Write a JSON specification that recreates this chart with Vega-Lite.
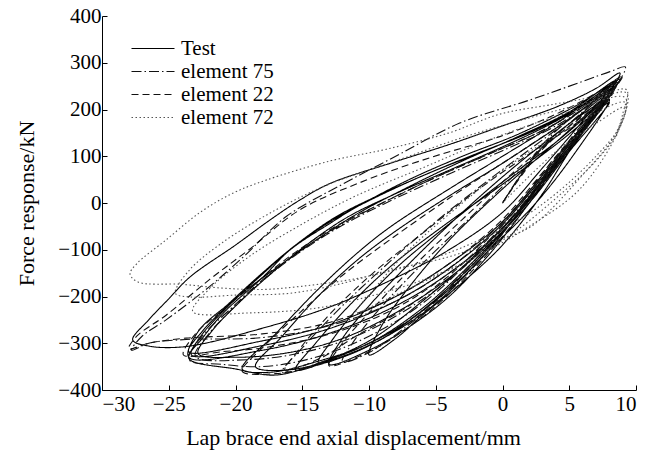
{
  "$schema": "https://vega.github.io/schema/vega-lite/v6.json",
  "width": 534,
  "height": 374,
  "autosize": {"type": "none"},
  "padding": {"left": 102, "top": 16, "right": 26, "bottom": 73},
  "background": "white",
  "config": {
    "view": {"stroke": null},
    "font": "Liberation Serif",
    "axis": {
      "labelFont": "Liberation Serif",
      "titleFont": "Liberation Serif",
      "labelFontSize": 21,
      "titleFontSize": 22,
      "titleFontWeight": "normal",
      "labelColor": "#000",
      "titleColor": "#000",
      "domainColor": "#000",
      "tickColor": "#000",
      "domainWidth": 1,
      "tickWidth": 1,
      "tickSize": -5,
      "grid": false
    },
    "legend": {
      "labelFont": "Liberation Serif",
      "labelFontSize": 21,
      "labelColor": "#000"
    }
  },
  "data": {
    "values": [
      {"s":"Test","i":0,"x":0,"y":0},{"s":"Test","i":1,"x":3,"y":120},{"s":"Test","i":2,"x":6,"y":190},{"s":"Test","i":3,"x":7.5,"y":215},
      {"s":"Test","i":4,"x":5,"y":110},{"s":"Test","i":5,"x":3,"y":20},{"s":"Test","i":6,"x":0,"y":-90},{"s":"Test","i":7,"x":-3,"y":-170},{"s":"Test","i":8,"x":-6,"y":-240},{"s":"Test","i":9,"x":-8,"y":-290},{"s":"Test","i":10,"x":-10,"y":-325},
      {"s":"Test","i":11,"x":-9,"y":-260},{"s":"Test","i":12,"x":-7,"y":-180},{"s":"Test","i":13,"x":-4,"y":-80},{"s":"Test","i":14,"x":0,"y":30},{"s":"Test","i":15,"x":4,"y":130},{"s":"Test","i":16,"x":7.8,"y":225},
      {"s":"Test","i":17,"x":5,"y":120},{"s":"Test","i":18,"x":2,"y":0},{"s":"Test","i":19,"x":-1,"y":-110},{"s":"Test","i":20,"x":-4,"y":-200},{"s":"Test","i":21,"x":-7,"y":-265},{"s":"Test","i":22,"x":-10,"y":-315},{"s":"Test","i":23,"x":-13,"y":-345},
      {"s":"Test","i":24,"x":-12,"y":-290},{"s":"Test","i":25,"x":-10,"y":-220},{"s":"Test","i":26,"x":-7,"y":-130},{"s":"Test","i":27,"x":-3,"y":-20},{"s":"Test","i":28,"x":1,"y":80},{"s":"Test","i":29,"x":5,"y":170},{"s":"Test","i":30,"x":8,"y":235},
      {"s":"Test","i":31,"x":5,"y":125},{"s":"Test","i":32,"x":2,"y":10},{"s":"Test","i":33,"x":-1,"y":-100},{"s":"Test","i":34,"x":-4,"y":-185},{"s":"Test","i":35,"x":-8,"y":-270},{"s":"Test","i":36,"x":-12,"y":-325},{"s":"Test","i":37,"x":-15.5,"y":-357},
      {"s":"Test","i":38,"x":-14,"y":-300},{"s":"Test","i":39,"x":-11.5,"y":-220},{"s":"Test","i":40,"x":-8.4,"y":-136},{"s":"Test","i":41,"x":-4,"y":-40},{"s":"Test","i":42,"x":0,"y":40},{"s":"Test","i":43,"x":4,"y":125},{"s":"Test","i":44,"x":8,"y":215},
      {"s":"Test","i":45,"x":5,"y":110},{"s":"Test","i":46,"x":2,"y":0},{"s":"Test","i":47,"x":-2,"y":-120},{"s":"Test","i":48,"x":-6,"y":-225},{"s":"Test","i":49,"x":-10,"y":-300},{"s":"Test","i":50,"x":-14,"y":-340},{"s":"Test","i":51,"x":-17.4,"y":-362},{"s":"Test","i":52,"x":-19.5,"y":-355},
      {"s":"Test","i":53,"x":-17,"y":-280},{"s":"Test","i":54,"x":-14,"y":-190},{"s":"Test","i":55,"x":-11,"y":-110},{"s":"Test","i":56,"x":-8.4,"y":-51},{"s":"Test","i":57,"x":-4,"y":30},{"s":"Test","i":58,"x":0,"y":100},{"s":"Test","i":59,"x":4,"y":170},{"s":"Test","i":60,"x":8.3,"y":250},
      {"s":"Test","i":61,"x":5,"y":120},{"s":"Test","i":62,"x":2,"y":10},{"s":"Test","i":63,"x":-2,"y":-110},{"s":"Test","i":64,"x":-6,"y":-210},{"s":"Test","i":65,"x":-10,"y":-295},{"s":"Test","i":66,"x":-14,"y":-345},{"s":"Test","i":67,"x":-17,"y":-368},{"s":"Test","i":68,"x":-20,"y":-355},{"s":"Test","i":69,"x":-23.5,"y":-332},
      {"s":"Test","i":70,"x":-22.5,"y":-290},{"s":"Test","i":71,"x":-20.9,"y":-235},{"s":"Test","i":72,"x":-18,"y":-160},{"s":"Test","i":73,"x":-15.9,"y":-100},{"s":"Test","i":74,"x":-13,"y":-45},{"s":"Test","i":75,"x":-10.9,"y":-8},{"s":"Test","i":76,"x":-7,"y":50},{"s":"Test","i":77,"x":-3,"y":100},{"s":"Test","i":78,"x":1,"y":145},{"s":"Test","i":79,"x":5,"y":200},{"s":"Test","i":80,"x":8.5,"y":255},
      {"s":"Test","i":81,"x":6,"y":155},{"s":"Test","i":82,"x":3,"y":50},{"s":"Test","i":83,"x":0,"y":-55},{"s":"Test","i":84,"x":-4,"y":-150},{"s":"Test","i":85,"x":-8,"y":-220},{"s":"Test","i":86,"x":-12.9,"y":-278},{"s":"Test","i":87,"x":-18,"y":-315},{"s":"Test","i":88,"x":-23.5,"y":-330},
      {"s":"Test","i":89,"x":-22.8,"y":-275},{"s":"Test","i":90,"x":-20.5,"y":-215},{"s":"Test","i":91,"x":-18,"y":-150},{"s":"Test","i":92,"x":-15.5,"y":-90},{"s":"Test","i":93,"x":-12.5,"y":-30},{"s":"Test","i":94,"x":-9,"y":20},{"s":"Test","i":95,"x":-5,"y":70},{"s":"Test","i":96,"x":-1,"y":115},{"s":"Test","i":97,"x":3,"y":165},{"s":"Test","i":98,"x":6,"y":210},{"s":"Test","i":99,"x":8.8,"y":265},
      {"s":"Test","i":100,"x":6,"y":165},{"s":"Test","i":101,"x":3,"y":60},{"s":"Test","i":102,"x":0,"y":-40},{"s":"Test","i":103,"x":-4,"y":-130},{"s":"Test","i":104,"x":-8,"y":-200},{"s":"Test","i":105,"x":-12.9,"y":-260},{"s":"Test","i":106,"x":-18,"y":-295},{"s":"Test","i":107,"x":-23.5,"y":-318},
      {"s":"Test","i":108,"x":-22.5,"y":-275},{"s":"Test","i":109,"x":-20,"y":-205},{"s":"Test","i":110,"x":-17,"y":-140},{"s":"Test","i":111,"x":-14,"y":-80},{"s":"Test","i":112,"x":-11,"y":-25},{"s":"Test","i":113,"x":-7,"y":35},{"s":"Test","i":114,"x":-3,"y":90},{"s":"Test","i":115,"x":1,"y":140},{"s":"Test","i":116,"x":5,"y":195},{"s":"Test","i":117,"x":8.5,"y":262},
      {"s":"Test","i":118,"x":6,"y":175},{"s":"Test","i":119,"x":3,"y":75},{"s":"Test","i":120,"x":0,"y":-20},{"s":"Test","i":121,"x":-4,"y":-100},{"s":"Test","i":122,"x":-8,"y":-160},{"s":"Test","i":123,"x":-12.9,"y":-222},{"s":"Test","i":124,"x":-18,"y":-268},{"s":"Test","i":125,"x":-23.7,"y":-307},{"s":"Test","i":126,"x":-26.5,"y":-306},{"s":"Test","i":127,"x":-27.7,"y":-293},
      {"s":"Test","i":128,"x":-26.5,"y":-250},{"s":"Test","i":129,"x":-25,"y":-205},{"s":"Test","i":130,"x":-23.4,"y":-158},{"s":"Test","i":131,"x":-20,"y":-90},{"s":"Test","i":132,"x":-17.4,"y":-36},{"s":"Test","i":133,"x":-15.2,"y":6},{"s":"Test","i":134,"x":-12.9,"y":42},{"s":"Test","i":135,"x":-8.4,"y":85},{"s":"Test","i":136,"x":-4,"y":125},{"s":"Test","i":137,"x":-0.2,"y":163},{"s":"Test","i":138,"x":4,"y":205},{"s":"Test","i":139,"x":7,"y":245},{"s":"Test","i":140,"x":8.8,"y":278},
      {"s":"Test","i":141,"x":7.5,"y":215},{"s":"Test","i":142,"x":6,"y":160},
      {"s":"Test","i":143,"x":3,"y":55},{"s":"Test","i":144,"x":0,"y":-45},{"s":"Test","i":145,"x":-4,"y":-140},{"s":"Test","i":146,"x":-8,"y":-210},{"s":"Test","i":147,"x":-12.9,"y":-268},{"s":"Test","i":148,"x":-18,"y":-305},{"s":"Test","i":149,"x":-23.3,"y":-325},
      {"s":"Test","i":150,"x":-22.6,"y":-285},{"s":"Test","i":151,"x":-20.7,"y":-225},{"s":"Test","i":152,"x":-18.2,"y":-158},{"s":"Test","i":153,"x":-15.7,"y":-95},{"s":"Test","i":154,"x":-12.8,"y":-38},{"s":"Test","i":155,"x":-10,"y":5},{"s":"Test","i":156,"x":-6,"y":58},{"s":"Test","i":157,"x":-2,"y":105},{"s":"Test","i":158,"x":2,"y":150},{"s":"Test","i":159,"x":5.5,"y":200},{"s":"Test","i":160,"x":8.6,"y":258},
      {"s":"Test","i":161,"x":5,"y":115},{"s":"Test","i":162,"x":2,"y":5},{"s":"Test","i":163,"x":-2,"y":-125},{"s":"Test","i":164,"x":-6,"y":-230},{"s":"Test","i":165,"x":-9,"y":-290},{"s":"Test","i":166,"x":-12,"y":-330},{"s":"Test","i":167,"x":-13.8,"y":-342},
      {"s":"Test","i":168,"x":-12.8,"y":-295},{"s":"Test","i":169,"x":-11,"y":-230},{"s":"Test","i":170,"x":-8,"y":-140},{"s":"Test","i":171,"x":-4,"y":-45},{"s":"Test","i":172,"x":0,"y":45},{"s":"Test","i":173,"x":4,"y":130},{"s":"Test","i":174,"x":8,"y":222},
      {"s":"Test","i":175,"x":5.5,"y":110},{"s":"Test","i":176,"x":2.5,"y":0},{"s":"Test","i":177,"x":-1.5,"y":-115},{"s":"Test","i":178,"x":-5,"y":-215},{"s":"Test","i":179,"x":-9,"y":-290},{"s":"Test","i":180,"x":-13,"y":-338},{"s":"Test","i":181,"x":-16.5,"y":-358},{"s":"Test","i":182,"x":-18.5,"y":-350},
      {"s":"Test","i":183,"x":-16.5,"y":-285},{"s":"Test","i":184,"x":-14,"y":-205},{"s":"Test","i":185,"x":-11,"y":-125},{"s":"Test","i":186,"x":-8,"y":-60},{"s":"Test","i":187,"x":-4,"y":15},{"s":"Test","i":188,"x":0,"y":85},{"s":"Test","i":189,"x":4,"y":160},{"s":"Test","i":190,"x":8.2,"y":240},
      {"s":"Test","i":191,"x":6,"y":150},{"s":"Test","i":192,"x":3,"y":45},{"s":"Test","i":193,"x":0,"y":-60},{"s":"Test","i":194,"x":-4,"y":-160},{"s":"Test","i":195,"x":-8,"y":-235},{"s":"Test","i":196,"x":-12,"y":-290},{"s":"Test","i":197,"x":-16,"y":-320},{"s":"Test","i":198,"x":-20,"y":-330},{"s":"Test","i":199,"x":-22.8,"y":-322},
      {"s":"Test","i":200,"x":-21.8,"y":-275},{"s":"Test","i":201,"x":-19.8,"y":-215},{"s":"Test","i":202,"x":-17.3,"y":-150},{"s":"Test","i":203,"x":-14.6,"y":-88},{"s":"Test","i":204,"x":-11.6,"y":-30},{"s":"Test","i":205,"x":-8,"y":20},{"s":"Test","i":206,"x":-4,"y":70},{"s":"Test","i":207,"x":0,"y":120},{"s":"Test","i":208,"x":4,"y":175},{"s":"Test","i":209,"x":8.4,"y":250},

      {"s":"element 75","i":0,"x":0,"y":0},{"s":"element 75","i":1,"x":3,"y":125},{"s":"element 75","i":2,"x":6,"y":200},{"s":"element 75","i":3,"x":8,"y":235},
      {"s":"element 75","i":4,"x":5,"y":120},{"s":"element 75","i":5,"x":2,"y":10},{"s":"element 75","i":6,"x":-1,"y":-100},{"s":"element 75","i":7,"x":-4,"y":-190},{"s":"element 75","i":8,"x":-7,"y":-260},{"s":"element 75","i":9,"x":-10,"y":-320},{"s":"element 75","i":10,"x":-12,"y":-340},
      {"s":"element 75","i":11,"x":-11,"y":-290},{"s":"element 75","i":12,"x":-9,"y":-220},{"s":"element 75","i":13,"x":-6,"y":-130},{"s":"element 75","i":14,"x":-2,"y":-20},{"s":"element 75","i":15,"x":2,"y":90},{"s":"element 75","i":16,"x":5,"y":170},{"s":"element 75","i":17,"x":8.2,"y":245},
      {"s":"element 75","i":18,"x":5,"y":125},{"s":"element 75","i":19,"x":2,"y":15},{"s":"element 75","i":20,"x":-2,"y":-120},{"s":"element 75","i":21,"x":-6,"y":-230},{"s":"element 75","i":22,"x":-10,"y":-300},{"s":"element 75","i":23,"x":-14,"y":-345},{"s":"element 75","i":24,"x":-16.5,"y":-362},
      {"s":"element 75","i":25,"x":-15,"y":-310},{"s":"element 75","i":26,"x":-12,"y":-220},{"s":"element 75","i":27,"x":-9,"y":-140},{"s":"element 75","i":28,"x":-5,"y":-40},{"s":"element 75","i":29,"x":-1,"y":50},{"s":"element 75","i":30,"x":3,"y":135},{"s":"element 75","i":31,"x":6,"y":200},{"s":"element 75","i":32,"x":8.5,"y":255},
      {"s":"element 75","i":33,"x":5,"y":130},{"s":"element 75","i":34,"x":2,"y":20},{"s":"element 75","i":35,"x":-2,"y":-110},{"s":"element 75","i":36,"x":-6,"y":-215},{"s":"element 75","i":37,"x":-10,"y":-285},{"s":"element 75","i":38,"x":-14,"y":-330},{"s":"element 75","i":39,"x":-18,"y":-350},{"s":"element 75","i":40,"x":-21,"y":-345},{"s":"element 75","i":41,"x":-23.5,"y":-335},
      {"s":"element 75","i":42,"x":-22.5,"y":-285},{"s":"element 75","i":43,"x":-20.5,"y":-230},{"s":"element 75","i":44,"x":-18,"y":-165},{"s":"element 75","i":45,"x":-15,"y":-100},{"s":"element 75","i":46,"x":-12,"y":-45},{"s":"element 75","i":47,"x":-9,"y":0},{"s":"element 75","i":48,"x":-5,"y":55},{"s":"element 75","i":49,"x":-1,"y":105},{"s":"element 75","i":50,"x":3,"y":155},{"s":"element 75","i":51,"x":6,"y":205},{"s":"element 75","i":52,"x":8.8,"y":265},
      {"s":"element 75","i":53,"x":6,"y":170},{"s":"element 75","i":54,"x":3,"y":60},{"s":"element 75","i":55,"x":0,"y":-40},{"s":"element 75","i":56,"x":-4,"y":-140},{"s":"element 75","i":57,"x":-8,"y":-210},{"s":"element 75","i":58,"x":-12.9,"y":-262},{"s":"element 75","i":59,"x":-18,"y":-288},{"s":"element 75","i":60,"x":-23.7,"y":-292},{"s":"element 75","i":61,"x":-26.5,"y":-300},{"s":"element 75","i":62,"x":-27.8,"y":-315},
      {"s":"element 75","i":63,"x":-27,"y":-285},{"s":"element 75","i":64,"x":-25.2,"y":-250},{"s":"element 75","i":65,"x":-22,"y":-180},{"s":"element 75","i":66,"x":-19.4,"y":-115},{"s":"element 75","i":67,"x":-16.2,"y":-29},{"s":"element 75","i":68,"x":-12,"y":40},{"s":"element 75","i":69,"x":-8,"y":100},{"s":"element 75","i":70,"x":-3.2,"y":171},{"s":"element 75","i":71,"x":2,"y":220},{"s":"element 75","i":72,"x":6,"y":260},{"s":"element 75","i":73,"x":8.05,"y":281},{"s":"element 75","i":74,"x":9.2,"y":291},
      {"s":"element 75","i":75,"x":8.5,"y":250},{"s":"element 75","i":76,"x":7,"y":200},
      {"s":"element 75","i":77,"x":4,"y":90},{"s":"element 75","i":78,"x":1,"y":-20},{"s":"element 75","i":79,"x":-3,"y":-140},{"s":"element 75","i":80,"x":-7,"y":-225},{"s":"element 75","i":81,"x":-11,"y":-285},{"s":"element 75","i":82,"x":-15,"y":-320},{"s":"element 75","i":83,"x":-19,"y":-335},{"s":"element 75","i":84,"x":-23,"y":-328},
      {"s":"element 75","i":85,"x":-22,"y":-280},{"s":"element 75","i":86,"x":-20,"y":-220},{"s":"element 75","i":87,"x":-17.5,"y":-155},{"s":"element 75","i":88,"x":-14.5,"y":-92},{"s":"element 75","i":89,"x":-11.5,"y":-40},{"s":"element 75","i":90,"x":-8,"y":10},{"s":"element 75","i":91,"x":-4,"y":62},{"s":"element 75","i":92,"x":0,"y":112},{"s":"element 75","i":93,"x":4,"y":165},{"s":"element 75","i":94,"x":8.5,"y":250},

      {"s":"element 22","i":0,"x":0,"y":0},{"s":"element 22","i":1,"x":3,"y":115},{"s":"element 22","i":2,"x":6,"y":185},{"s":"element 22","i":3,"x":7.8,"y":220},
      {"s":"element 22","i":4,"x":5,"y":115},{"s":"element 22","i":5,"x":2,"y":0},{"s":"element 22","i":6,"x":-1,"y":-105},{"s":"element 22","i":7,"x":-4,"y":-195},{"s":"element 22","i":8,"x":-7,"y":-265},{"s":"element 22","i":9,"x":-10,"y":-318},{"s":"element 22","i":10,"x":-13,"y":-348},
      {"s":"element 22","i":11,"x":-12,"y":-300},{"s":"element 22","i":12,"x":-10,"y":-235},{"s":"element 22","i":13,"x":-7,"y":-145},{"s":"element 22","i":14,"x":-3,"y":-35},{"s":"element 22","i":15,"x":1,"y":70},{"s":"element 22","i":16,"x":5,"y":165},{"s":"element 22","i":17,"x":8,"y":230},
      {"s":"element 22","i":18,"x":5,"y":120},{"s":"element 22","i":19,"x":2,"y":5},{"s":"element 22","i":20,"x":-2,"y":-125},{"s":"element 22","i":21,"x":-6,"y":-235},{"s":"element 22","i":22,"x":-10,"y":-305},{"s":"element 22","i":23,"x":-14,"y":-348},{"s":"element 22","i":24,"x":-17,"y":-365},{"s":"element 22","i":25,"x":-19.5,"y":-360},
      {"s":"element 22","i":26,"x":-18,"y":-310},{"s":"element 22","i":27,"x":-15,"y":-230},{"s":"element 22","i":28,"x":-12,"y":-155},{"s":"element 22","i":29,"x":-8.5,"y":-80},{"s":"element 22","i":30,"x":-4,"y":10},{"s":"element 22","i":31,"x":0,"y":85},{"s":"element 22","i":32,"x":4,"y":160},{"s":"element 22","i":33,"x":8.3,"y":240},
      {"s":"element 22","i":34,"x":6,"y":150},{"s":"element 22","i":35,"x":3,"y":45},{"s":"element 22","i":36,"x":0,"y":-55},{"s":"element 22","i":37,"x":-4,"y":-150},{"s":"element 22","i":38,"x":-8,"y":-225},{"s":"element 22","i":39,"x":-12.9,"y":-280},{"s":"element 22","i":40,"x":-18,"y":-310},{"s":"element 22","i":41,"x":-21,"y":-318},{"s":"element 22","i":42,"x":-23.9,"y":-325},
      {"s":"element 22","i":43,"x":-23,"y":-280},{"s":"element 22","i":44,"x":-21,"y":-230},{"s":"element 22","i":45,"x":-18,"y":-160},{"s":"element 22","i":46,"x":-15.5,"y":-105},{"s":"element 22","i":47,"x":-12.5,"y":-50},{"s":"element 22","i":48,"x":-9,"y":0},{"s":"element 22","i":49,"x":-5,"y":55},{"s":"element 22","i":50,"x":-1,"y":105},{"s":"element 22","i":51,"x":3,"y":155},{"s":"element 22","i":52,"x":6,"y":205},{"s":"element 22","i":53,"x":8.6,"y":258},
      {"s":"element 22","i":54,"x":6,"y":165},{"s":"element 22","i":55,"x":3,"y":65},{"s":"element 22","i":56,"x":0,"y":-35},{"s":"element 22","i":57,"x":-4,"y":-130},{"s":"element 22","i":58,"x":-8,"y":-200},{"s":"element 22","i":59,"x":-12.9,"y":-255},{"s":"element 22","i":60,"x":-18,"y":-280},{"s":"element 22","i":61,"x":-23.7,"y":-289},{"s":"element 22","i":62,"x":-26.5,"y":-300},{"s":"element 22","i":63,"x":-28,"y":-312},
      {"s":"element 22","i":64,"x":-27.4,"y":-285},{"s":"element 22","i":65,"x":-25.2,"y":-240},{"s":"element 22","i":66,"x":-22,"y":-165},{"s":"element 22","i":67,"x":-19,"y":-100},{"s":"element 22","i":68,"x":-15.2,"y":-15},{"s":"element 22","i":69,"x":-10.2,"y":49},{"s":"element 22","i":70,"x":-5.2,"y":99},{"s":"element 22","i":71,"x":-0.2,"y":142},{"s":"element 22","i":72,"x":4,"y":190},{"s":"element 22","i":73,"x":7,"y":235},{"s":"element 22","i":74,"x":9,"y":272},
      {"s":"element 22","i":75,"x":8,"y":230},{"s":"element 22","i":76,"x":6.5,"y":180},
      {"s":"element 22","i":77,"x":4,"y":100},{"s":"element 22","i":78,"x":1,"y":-10},{"s":"element 22","i":79,"x":-3,"y":-130},{"s":"element 22","i":80,"x":-7,"y":-220},{"s":"element 22","i":81,"x":-11,"y":-285},{"s":"element 22","i":82,"x":-13.5,"y":-330},{"s":"element 22","i":83,"x":-16.3,"y":-358},
      {"s":"element 22","i":84,"x":-15,"y":-305},{"s":"element 22","i":85,"x":-12.5,"y":-225},{"s":"element 22","i":86,"x":-9.5,"y":-145},{"s":"element 22","i":87,"x":-6,"y":-65},{"s":"element 22","i":88,"x":-2,"y":25},{"s":"element 22","i":89,"x":2,"y":105},{"s":"element 22","i":90,"x":5.5,"y":170},{"s":"element 22","i":91,"x":8.3,"y":235},

      {"s":"element 72","i":0,"x":0,"y":0},{"s":"element 72","i":1,"x":4,"y":110},{"s":"element 72","i":2,"x":7,"y":170},{"s":"element 72","i":3,"x":9.2,"y":205},
      {"s":"element 72","i":4,"x":8.6,"y":150},{"s":"element 72","i":5,"x":7,"y":90},{"s":"element 72","i":6,"x":4,"y":10},{"s":"element 72","i":7,"x":1,"y":-60},{"s":"element 72","i":8,"x":-2,"y":-115},{"s":"element 72","i":9,"x":-6,"y":-170},{"s":"element 72","i":10,"x":-9,"y":-210},{"s":"element 72","i":11,"x":-11,"y":-235},
      {"s":"element 72","i":12,"x":-9.5,"y":-180},{"s":"element 72","i":13,"x":-7,"y":-100},{"s":"element 72","i":14,"x":-3,"y":0},{"s":"element 72","i":15,"x":1,"y":90},{"s":"element 72","i":16,"x":5,"y":160},{"s":"element 72","i":17,"x":9.2,"y":215},
      {"s":"element 72","i":18,"x":8.6,"y":150},{"s":"element 72","i":19,"x":5.8,"y":30},{"s":"element 72","i":20,"x":2,"y":-50},{"s":"element 72","i":21,"x":-2,"y":-115},{"s":"element 72","i":22,"x":-6,"y":-165},{"s":"element 72","i":23,"x":-10,"y":-200},{"s":"element 72","i":24,"x":-14,"y":-225},{"s":"element 72","i":25,"x":-18.9,"y":-235},{"s":"element 72","i":26,"x":-23.2,"y":-232},
      {"s":"element 72","i":27,"x":-22,"y":-185},{"s":"element 72","i":28,"x":-19,"y":-115},{"s":"element 72","i":29,"x":-15,"y":-45},{"s":"element 72","i":30,"x":-11,"y":15},{"s":"element 72","i":31,"x":-6,"y":75},{"s":"element 72","i":32,"x":-1,"y":135},{"s":"element 72","i":33,"x":4,"y":185},{"s":"element 72","i":34,"x":9.2,"y":225},
      {"s":"element 72","i":35,"x":8.5,"y":150},{"s":"element 72","i":36,"x":6,"y":60},{"s":"element 72","i":37,"x":2.1,"y":-51},{"s":"element 72","i":38,"x":-0.4,"y":-79},{"s":"element 72","i":39,"x":-4,"y":-115},{"s":"element 72","i":40,"x":-8.4,"y":-143},{"s":"element 72","i":41,"x":-12,"y":-172},{"s":"element 72","i":42,"x":-15.9,"y":-193},{"s":"element 72","i":43,"x":-20,"y":-197},{"s":"element 72","i":44,"x":-23.4,"y":-201},{"s":"element 72","i":45,"x":-24.5,"y":-193},
      {"s":"element 72","i":46,"x":-23.5,"y":-145},{"s":"element 72","i":47,"x":-21,"y":-85},{"s":"element 72","i":48,"x":-17,"y":-15},{"s":"element 72","i":49,"x":-13,"y":40},{"s":"element 72","i":50,"x":-8,"y":90},{"s":"element 72","i":51,"x":-3,"y":140},{"s":"element 72","i":52,"x":2,"y":182},{"s":"element 72","i":53,"x":6,"y":212},{"s":"element 72","i":54,"x":9.3,"y":235},
      {"s":"element 72","i":55,"x":8.8,"y":165},{"s":"element 72","i":56,"x":7,"y":100},{"s":"element 72","i":57,"x":4,"y":20},{"s":"element 72","i":58,"x":1,"y":-40},{"s":"element 72","i":59,"x":-3,"y":-95},{"s":"element 72","i":60,"x":-7,"y":-135},{"s":"element 72","i":61,"x":-11,"y":-162},{"s":"element 72","i":62,"x":-15,"y":-178},{"s":"element 72","i":63,"x":-18,"y":-185},{"s":"element 72","i":64,"x":-21,"y":-182},{"s":"element 72","i":65,"x":-24,"y":-174},{"s":"element 72","i":66,"x":-27.3,"y":-169},{"s":"element 72","i":67,"x":-27.9,"y":-152},
      {"s":"element 72","i":68,"x":-27.4,"y":-130},{"s":"element 72","i":69,"x":-25.2,"y":-79},{"s":"element 72","i":70,"x":-22.7,"y":-21},{"s":"element 72","i":71,"x":-20.2,"y":21},{"s":"element 72","i":72,"x":-17.7,"y":49},{"s":"element 72","i":73,"x":-12.9,"y":90},{"s":"element 72","i":74,"x":-8.7,"y":115},{"s":"element 72","i":75,"x":-4,"y":150},{"s":"element 72","i":76,"x":-0.2,"y":190},{"s":"element 72","i":77,"x":4,"y":212},{"s":"element 72","i":78,"x":7,"y":228},{"s":"element 72","i":79,"x":9.3,"y":242},
      {"s":"element 72","i":80,"x":9,"y":190},{"s":"element 72","i":81,"x":8.5,"y":140}
    ]
  },
  "mark": {"type": "line", "interpolate": "catmull-rom", "strokeWidth": 1.1},
  "encoding": {
    "x": {
      "field": "x", "type": "quantitative",
      "scale": {"domain": [-30, 10], "nice": false, "zero": false},
      "axis": {"values": [-30, -25, -20, -15, -10, -5, 0, 5, 10], "title": "Lap brace end axial displacement/mm", "labelPadding": 8, "titlePadding": 13, "titleX": 251, "titleAlign": "center"}
    },
    "y": {
      "field": "y", "type": "quantitative",
      "scale": {"domain": [-400, 400], "nice": false, "zero": false},
      "axis": {"values": [-400, -300, -200, -100, 0, 100, 200, 300, 400], "title": "Force response/kN", "labelPadding": 6, "titlePadding": 19}
    },
    "order": {"field": "i", "type": "quantitative"},
    "color": {
      "field": "s", "type": "nominal",
      "scale": {"domain": ["Test", "element 75", "element 22", "element 72"], "range": ["#000000", "#111111", "#111111", "#555555"]},
      "legend": {"title": null, "orient": "none", "legendX": 40.5, "legendY": 22, "symbolType": "M-4.3,0H4.3", "symbolSize": 100, "symbolStrokeWidth": 1.1, "labelOffset": 17.5, "rowPadding": 1, "padding": 0}
    },
    "strokeDash": {
      "field": "s", "type": "nominal",
      "scale": {"domain": ["Test", "element 75", "element 22", "element 72"], "range": [[1, 0], [10, 3, 1.5, 3], [7, 4], [1.5, 2.5]]},
      "legend": {"title": null, "orient": "none", "legendX": 40.5, "legendY": 22, "symbolType": "M-4.3,0H4.3", "symbolSize": 100, "symbolStrokeWidth": 1.1, "labelOffset": 17.5, "rowPadding": 1, "padding": 0}
    }
  }
}
